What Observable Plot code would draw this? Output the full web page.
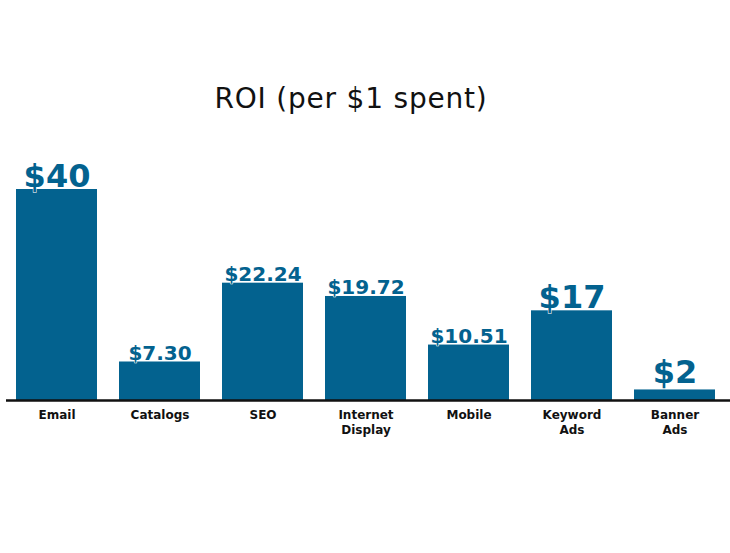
<!DOCTYPE html>
<html>
<head>
<meta charset="utf-8">
<script src="https://cdn.jsdelivr.net/npm/d3@7"></script>
<script src="https://cdn.jsdelivr.net/npm/@observablehq/plot@0.6"></script>
<style>
  html, body { margin: 0; padding: 0; background: #fff; }
  #wrap { width: 730px; height: 553px; position: relative; }
  #title { font-family: "DejaVu Sans", sans-serif; font-size: 28px; letter-spacing: 0.8px; line-height: 32px; color: #111;
           text-align: center; padding-top: 83px; height: 32px; width: 702px; }
  svg { display: block; }
</style>
</head>
<body>
<div id="wrap">
  <div id="title">ROI (per $1 spent)</div>
  <div id="chart"></div>
</div>
<script>
const categories = ["Email", "Catalogs", "SEO", "Internet\nDisplay", "Mobile", "Keyword\nAds", "Banner\nAds"];
const values = [40, 7.30, 22.24, 19.72, 10.51, 17, 2];
const labels = ["$40", "$7.30", "$22.24", "$19.72", "$10.51", "$17", "$2"];
const bigLabel = [true, false, false, false, false, true, true];

const data = categories.map((c, i) => ({category: c, value: values[i], label: labels[i], big: bigLabel[i]}));
const blue = "#03628f";
const labelStyle = {x: "category", y: "value", text: "label", lineAnchor: "bottom",
  fill: blue, stroke: "white", strokeWidth: 1, fontWeight: "bold", paintOrder: "stroke",
  fontFamily: "'DejaVu Sans', sans-serif"};

const chart = Plot.plot({
  width: 730,
  height: 345,
  marginTop: 74,
  marginBottom: 60,
  marginLeft: 15,
  marginRight: 13,
  style: {fontFamily: "'DejaVu Sans', sans-serif", background: "white"},
  x: {domain: categories, paddingInner: 0.21, paddingOuter: 0, label: null},
  y: {domain: [0, 40], axis: null},
  marks: [
    Plot.barY(data, {x: "category", y: "value", fill: blue}),
    Plot.text(data.filter(d => !d.big), {...labelStyle, dy: -2, fontSize: 20}),
    Plot.text(data.filter(d => d.big && d.value >= 5), {...labelStyle, dy: -3, fontSize: 32}),
    Plot.text(data.filter(d => d.big && d.value < 5), {...labelStyle, dy: -7, fontSize: 32}),
    Plot.ruleY([0], {stroke: "#111", strokeWidth: 2.5, insetLeft: -9, insetRight: -13}),
    Plot.axisX({tickSize: 0, tickPadding: 8, fontSize: 12, fontWeight: "bold", fill: "#111", lineHeight: 1.25, label: null})
  ]
});
document.getElementById("chart").appendChild(chart);
</script>
</body>
</html>
